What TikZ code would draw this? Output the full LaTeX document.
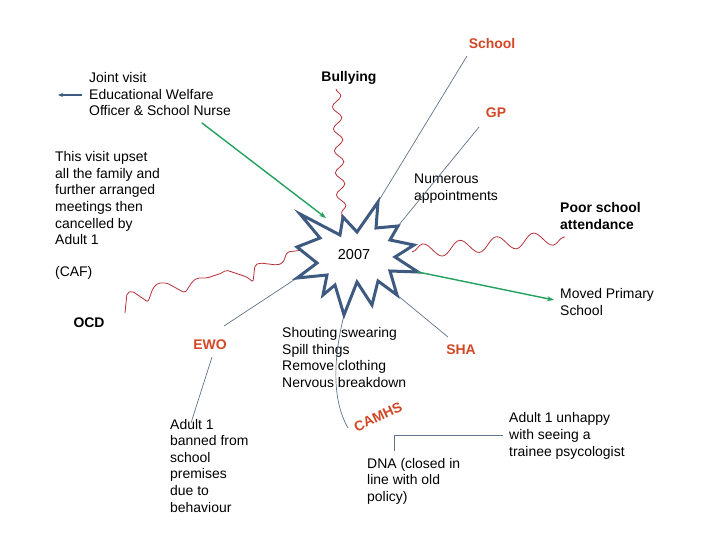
\documentclass[tikz,border=0pt]{standalone}
\usepackage{fontspec}
\setmainfont{Liberation Sans}
\usetikzlibrary{arrows.meta,decorations.pathmorphing}
\definecolor{lblred}{HTML}{D24726}
\definecolor{wavered}{HTML}{B8323A}
\definecolor{arrgreen}{HTML}{23A05E}
\definecolor{starblue}{HTML}{3F5A80}
\definecolor{thinline}{HTML}{5F7389}
\tikzset{
  txt/.style={font=\fontsize{14}{16.8}\selectfont, align=left, anchor=north west, inner sep=0pt},
  boldlbl/.style={font=\fontsize{14}{16}\selectfont\bfseries, inner sep=0pt},
  redlbl/.style={boldlbl, text=lblred},
  thin connector/.style={draw=thinline, line width=0.7bp},
  wavy/.style={draw=wavered, line width=0.8bp},
  greenarrow/.style={draw=arrgreen, line width=1.4bp, line cap=round, -{Stealth[length=7bp,width=5bp]}},
}
\begin{document}
\begin{tikzpicture}[x=1bp,y=-1bp]
\useasboundingbox (0,0) rectangle (720,540);
% star tips (named coordinates)
\coordinate (s1) at (300,214);
\coordinate (s2) at (340,235);
\coordinate (s3) at (343,217);
\coordinate (s4) at (357,232);
\coordinate (s5) at (378,202);
\coordinate (s6) at (376,228);
\coordinate (s7) at (398,226);
\coordinate (s8) at (390,240);
\coordinate (s9) at (414,245);
\coordinate (s10) at (395,257);
\coordinate (s11) at (418,272);
\coordinate (s12) at (390,271);
\coordinate (s13) at (397,295);
\coordinate (s14) at (378,281);
\coordinate (s15) at (372,305);
\coordinate (s16) at (357,282);
\coordinate (s17) at (344,315);
\coordinate (s18) at (335,285);
\coordinate (s19) at (323,295);
\coordinate (s20) at (327,275);
\coordinate (s21) at (297,278);
\coordinate (s22) at (317,263);
\coordinate (s23) at (297,247);
\coordinate (s24) at (320,238);

% text nodes
\node[txt] (joint) at (89,72) {Joint visit\\Educational Welfare\\Officer \& School Nurse};
\node[txt] (upset) at (55,151) {This visit upset\\all the family and\\further arranged\\meetings then\\cancelled by\\Adult 1};
\node[txt] (caf) at (55,266.5) {(CAF)};
\node[boldlbl] (ocd) at (89,323) {OCD};
\node[boldlbl] (bully) at (349,78) {Bullying};
\node[redlbl] (school) at (492,44) {School};
\node[redlbl] (gp) at (496,113) {GP};
\node[txt] (numerous) at (414,174) {Numerous\\appointments};
\node[txt, font=\fontsize{14}{16.8}\selectfont\bfseries] (poor) at (560,202) {Poor school\\attendance};
\node[txt] (moved) at (560,288) {Moved Primary\\School};
\node[redlbl] (sha) at (461,350) {SHA};
\node[txt] (shout) at (282,327) {Shouting swearing\\Spill things\\Remove clothing\\Nervous breakdown};
\node[redlbl] (ewo) at (210,345) {EWO};
\node[txt, font=\fontsize{14}{16.6}\selectfont] (banned) at (170,419) {Adult 1\\banned from\\school\\premises\\due to\\behaviour};
\node[redlbl, rotate=25, inner sep=-1pt] (camhs) at (378,417) {CAMHS};
\node[txt, font=\fontsize{14}{16.5}\selectfont] (dna) at (367,458) {DNA (closed in\\line with old\\policy)};
\node[txt, font=\fontsize{14}{17}\selectfont] (unhappy) at (509,412) {Adult 1 unhappy\\with seeing a\\trainee psycologist};

% helper coordinates for connector ends
\coordinate (schoolend) at (467,56);
\coordinate (gpend) at (479,127);
\coordinate (shaend) at (448,337);
\coordinate (ewoend) at (224,326);
\coordinate (ewobot) at (212,357);
\coordinate (bannedtop) at (191,423);
\coordinate (camhsend) at (348,428);
\coordinate (dnatop) at (394,451);
\coordinate (elbow) at (394,435);
\coordinate (unhappyend) at (503,435);
\coordinate (jointarrow) at (82,95);
\coordinate (jointarrowend) at (58,95);
\coordinate (jointgreen) at (202,123);
\coordinate (greenend1) at (326,218);
\coordinate (movedend) at (554,300);

% thin connectors
\draw[thin connector] (schoolend) -- (s5);
\draw[thin connector] (gpend) -- (s7);
\draw[thin connector] (s13) -- (shaend);
\draw[thin connector] (s21) -- (ewoend);
\draw[thin connector] (ewobot) -- (bannedtop);
\draw[thin connector] (s17) .. controls (333,360) and (332,400) .. (camhsend);
\draw[thin connector] (dnatop) -- (elbow) -- (unhappyend);
\draw[draw=starblue, line width=1.6bp, -{Stealth[length=5bp,width=4bp]}] (jointarrow) -- (jointarrowend);

% wavy lines
\draw[wavy, decorate, decoration={snake, amplitude=4.5bp, segment length=22bp}] (336,89) -- (342,219);
\draw[wavy, decorate, decoration={snake, amplitude=7bp, segment length=37bp}] (412,252) -- (565,237);
\draw[wavy, rounded corners=2bp] (125,313) -- (127,293) -- (132,291) -- (148,302) -- (153,288) -- (158,283) -- (167,283) -- (185,293) -- (192,282) -- (197,278) -- (207,278) -- (222,273) -- (226,270) -- (247,277) -- (253,282) -- (255,265) -- (260,263) -- (277,265) -- (283,263) -- (287,252) -- (303,250);

% star
\draw[draw=starblue, line width=3bp, line join=miter, fill=white]
  (s1) -- (s2) -- (s3) -- (s4) -- (s5) -- (s6) -- (s7) -- (s8) -- (s9) -- (s10) -- (s11) -- (s12)
  -- (s13) -- (s14) -- (s15) -- (s16) -- (s17) -- (s18) -- (s19) -- (s20) -- (s21) -- (s22) -- (s23) -- (s24) -- cycle;
\node[font=\fontsize{14.5}{16}\selectfont, inner sep=0pt] (yr) at (354,255) {2007};

% green arrows
\draw[greenarrow] (jointgreen) -- (greenend1);
\draw[greenarrow] (s11) -- (movedend);
\end{tikzpicture}
\end{document}
